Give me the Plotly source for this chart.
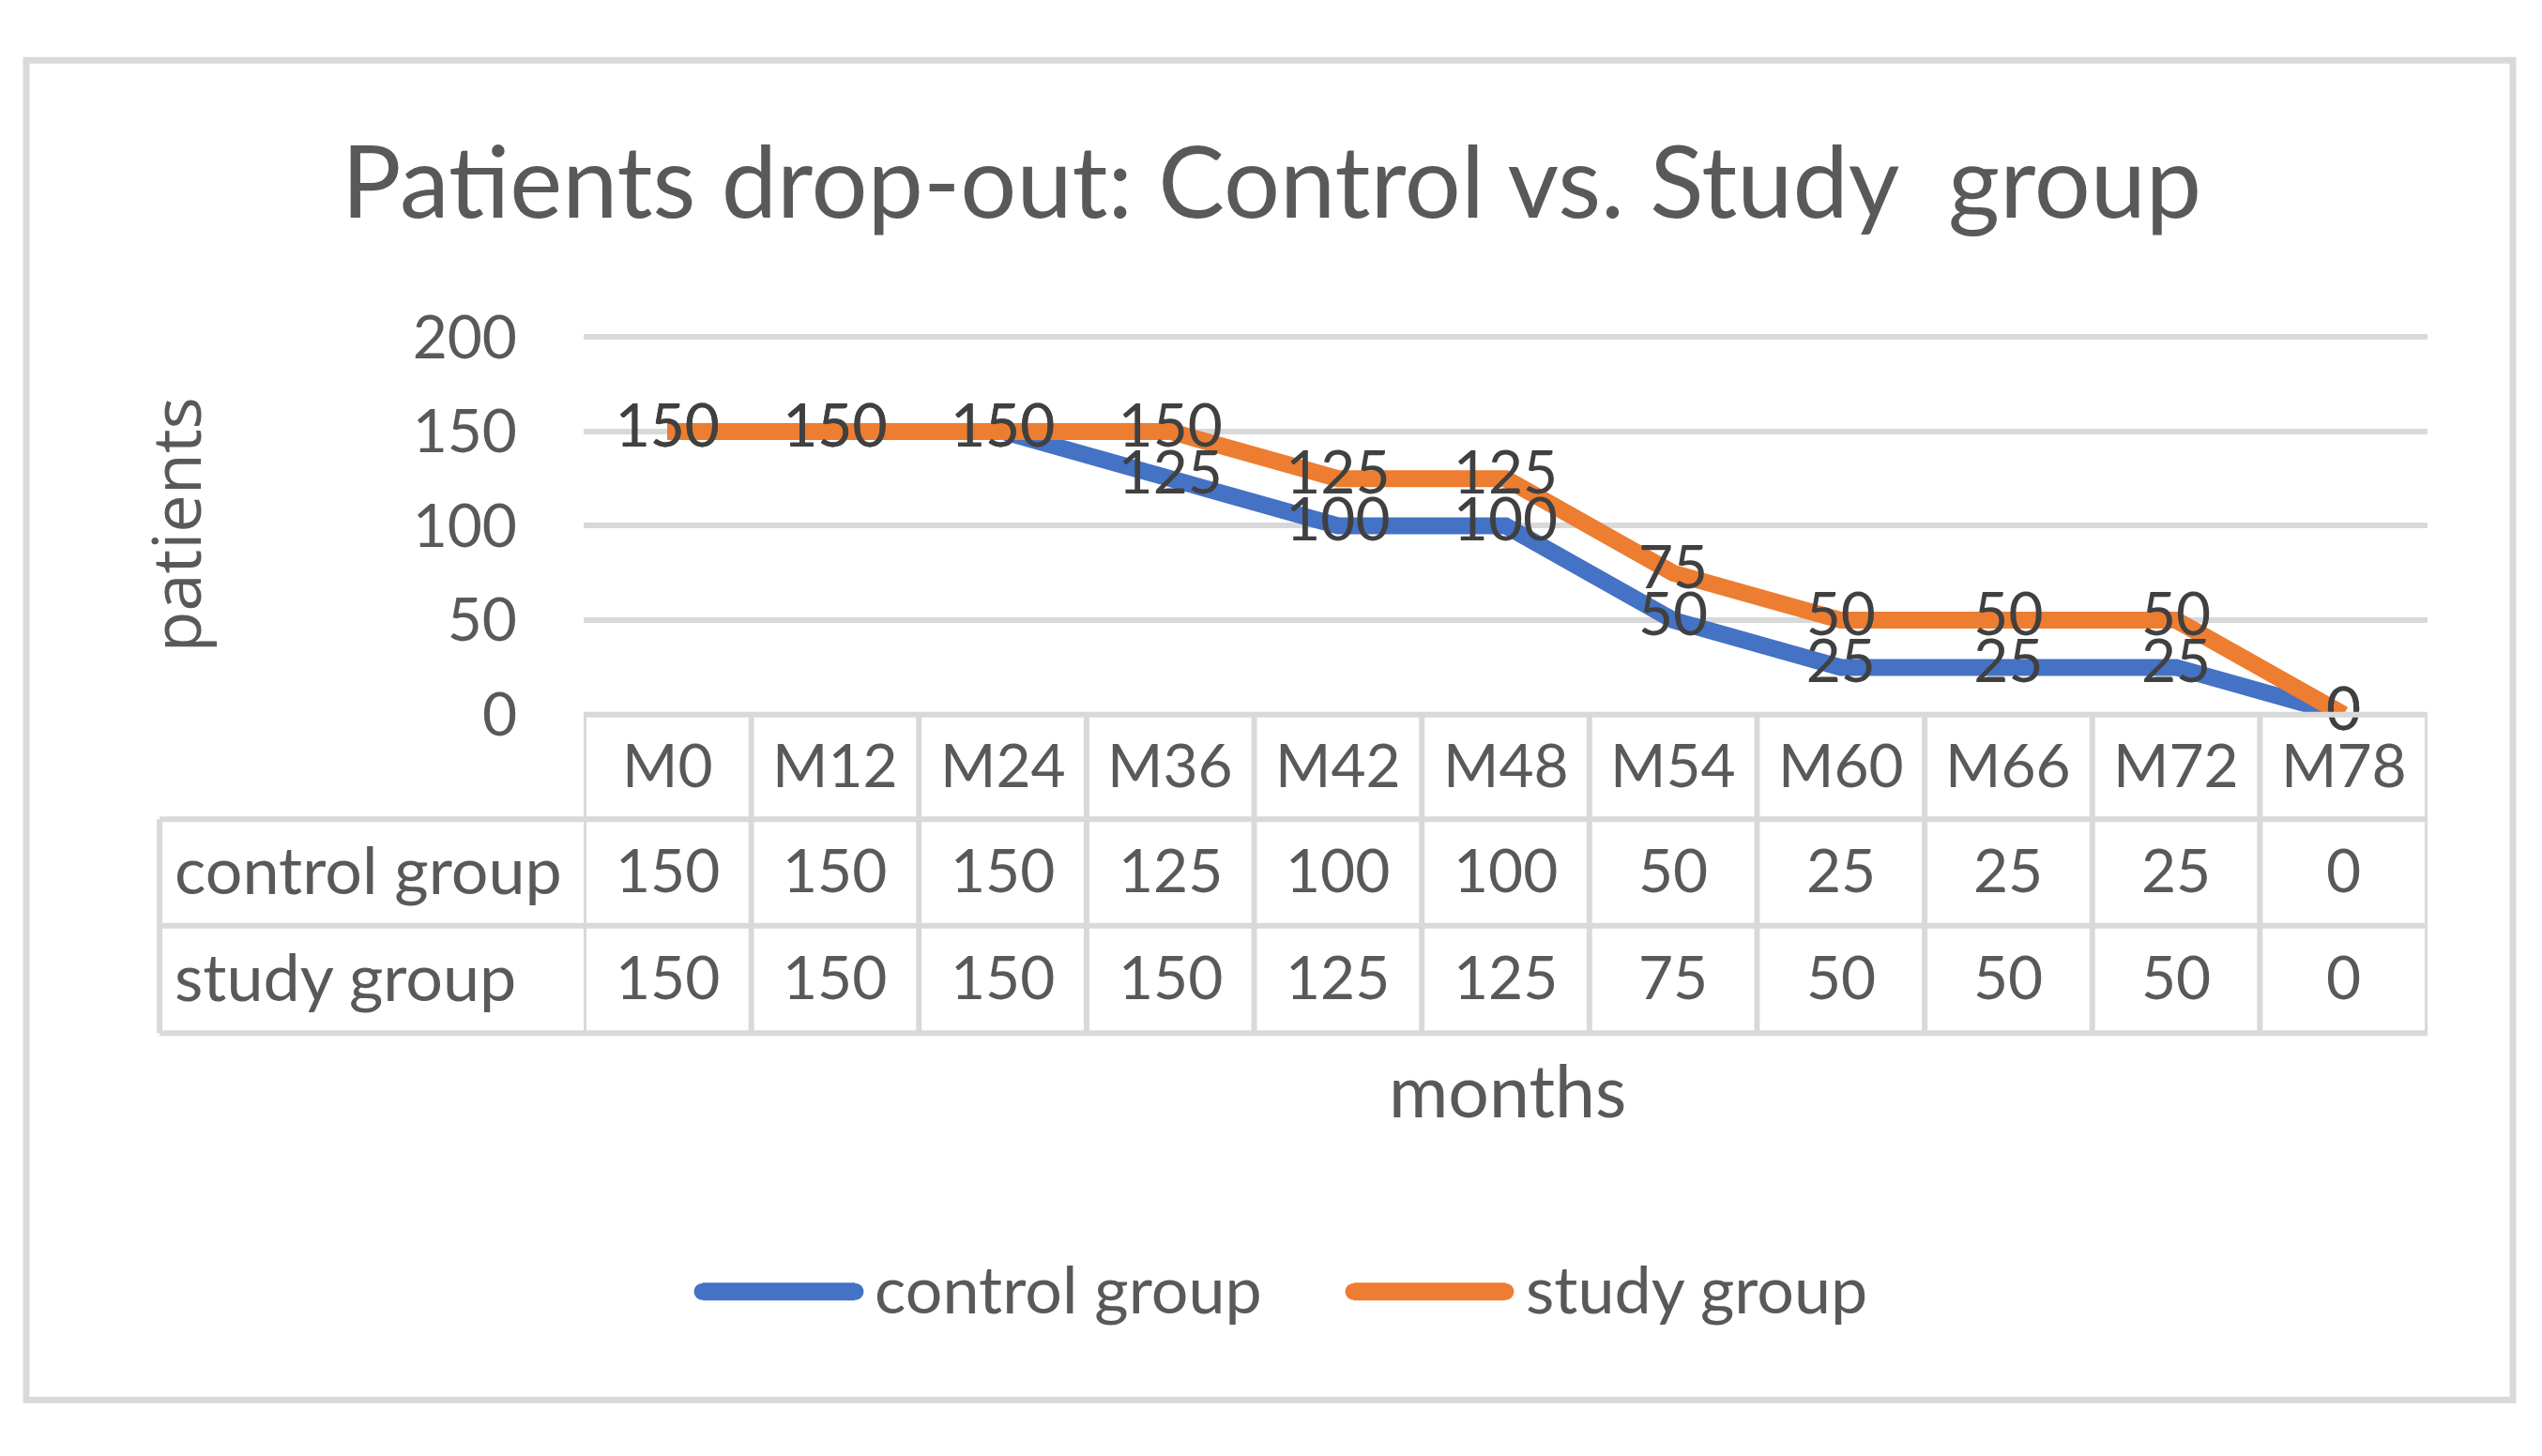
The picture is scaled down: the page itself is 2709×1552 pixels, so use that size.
import plotly.graph_objects as go

# ---- data ----
months = ["M0", "M12", "M24", "M36", "M42", "M48", "M54", "M60", "M66", "M72", "M78"]
control = [150, 150, 150, 125, 100, 100, 50, 25, 25, 25, 0]
study = [150, 150, 150, 150, 125, 125, 75, 50, 50, 50, 0]
series_names = ["control group", "study group"]
yticks = [0, 50, 100, 150, 200]
title_text = "Patients drop-out: Control vs. Study  group"
x_title = "months"
y_title = "patients"

# ---- styling ----
W, H = 2709, 1552
BLUE = "#4472C4"
ORANGE = "#ED7D31"
GRID = "#D9D9D9"
TXT = "#595959"
LBL = "#404040"
FONT = "Lato"
FS = 64      # digits / tick labels
FS_W = 70    # word labels (table row names, legend)


def px(x):
    return x / W


def py(y):
    return 1 - y / H


series = [(series_names[0], control, BLUE), (series_names[1], study, ORANGE)]

fig = go.Figure()
for name, vals, col in series:
    fig.add_trace(go.Scatter(
        x=months, y=vals, mode="lines", name=name,
        line=dict(color=col, width=18), showlegend=False, cliponaxis=False,
    ))
for name, vals, col in series:
    fig.add_trace(go.Scatter(
        x=months, y=vals, mode="text", text=[str(v) for v in vals],
        textposition="middle center",
        textfont=dict(family=FONT, size=FS, color=LBL),
        showlegend=False, cliponaxis=False, hoverinfo="skip",
    ))

shapes = []
# outer chart border
shapes.append(dict(type="rect", xref="paper", yref="paper",
                   x0=px(28), x1=px(2678), y0=py(29.5), y1=py(1527),
                   line=dict(color=GRID, width=7)))

# data table grid
top, r1, r2, bot = 761, 878, 997, 1117
left_tab, plot_l, plot_r = 170, 622, 2587
LW = 6
shapes.append(dict(type="line", xref="paper", yref="paper",
                   x0=px(plot_l), x1=px(plot_r), y0=py(top), y1=py(top),
                   line=dict(color=GRID, width=LW)))
for yy in (r1, r2, bot):
    shapes.append(dict(type="line", xref="paper", yref="paper",
                       x0=px(left_tab), x1=px(plot_r), y0=py(yy), y1=py(yy),
                       line=dict(color=GRID, width=LW)))
shapes.append(dict(type="line", xref="paper", yref="paper",
                   x0=px(left_tab), x1=px(left_tab), y0=py(r1), y1=py(bot),
                   line=dict(color=GRID, width=LW)))
for i in range(len(months) + 1):
    shapes.append(dict(type="line", xref="x", yref="paper",
                       x0=i - 0.5, x1=i - 0.5, y0=py(top), y1=py(bot),
                       line=dict(color=GRID, width=LW)))

# legend samples
leg = [(749, 911, 930), (1443, 1604, 1624)]
leg_y = 1406
for (x0, x1, _), (name, vals, col) in zip(leg, series):
    shapes.append(dict(type="line", xref="paper", yref="paper",
                       x0=px(x0), x1=px(x1), y0=py(leg_y), y1=py(leg_y),
                       line=dict(color=col, width=19)))
    # rounded caps
    for cx in (x0, x1):
        shapes.append(dict(type="circle", xref="paper", yref="paper",
                           x0=px(cx - 9.5), x1=px(cx + 9.5),
                           y0=py(leg_y + 9.5), y1=py(leg_y - 9.5),
                           fillcolor=col, line=dict(width=0)))

ann = []
ann.append(dict(text=title_text, xref="paper", yref="paper", x=px(1355), y=py(163),
                xanchor="center", yanchor="middle", showarrow=False,
                font=dict(family=FONT, size=106, color=TXT)))
ann.append(dict(text=y_title, xref="paper", yref="paper", x=px(186), y=py(549),
                xanchor="center", yanchor="middle", textangle=-90, showarrow=False,
                font=dict(family="Open Sans", size=72, color=TXT)))
ann.append(dict(text=x_title, xref="paper", yref="paper", x=px(1606), y=py(1180),
                xanchor="center", yanchor="middle", showarrow=False,
                font=dict(family=FONT, size=77, color=TXT)))
# table header
for m in months:
    ann.append(dict(text=m, xref="x", yref="paper", x=m, y=py((top + r1) / 2 - 3),
                    xanchor="center", yanchor="middle", showarrow=False,
                    font=dict(family=FONT, size=FS, color=TXT)))
# table rows
for (name, vals, col), (ya, yb) in zip(series, [(r1, r2), (r2, bot)]):
    yc = (ya + yb) / 2 - 4
    ann.append(dict(text=name, xref="paper", yref="paper", x=px(184), y=py(yc),
                    xanchor="left", yanchor="middle", showarrow=False,
                    font=dict(family=FONT, size=FS_W, color=TXT)))
    for m, v in zip(months, vals):
        ann.append(dict(text=str(v), xref="x", yref="paper", x=m, y=py(yc),
                        xanchor="center", yanchor="middle", showarrow=False,
                        font=dict(family=FONT, size=FS, color=TXT)))
# legend labels
for (_, _, tx), (name, vals, col) in zip(leg, series):
    ann.append(dict(text=name, xref="paper", yref="paper", x=px(tx), y=py(leg_y - 4),
                    xanchor="left", yanchor="middle", showarrow=False,
                    font=dict(family=FONT, size=FS_W, color=TXT)))

# y axis: 200 maps to pixel 339 and 0 to pixel 761; range extended slightly so
# the top gridline is drawn
y_lo, y_hi = 0, 202
ppu = (761 - 339) / 200.0
y_top_px = 761 - (y_hi - y_lo) * ppu

fig.update_layout(
    width=W, height=H, autosize=False,
    margin=dict(l=0, r=0, t=0, b=0),
    paper_bgcolor="white", plot_bgcolor="white",
    shapes=shapes, annotations=ann,
    xaxis=dict(domain=[px(plot_l), px(plot_r)], type="category",
               range=[-0.5, len(months) - 0.5], showticklabels=False,
               showgrid=False, zeroline=False, showline=False, ticks=""),
    yaxis=dict(domain=[py(761), py(y_top_px)], range=[y_lo, y_hi], tickvals=yticks,
               showgrid=True, gridcolor=GRID, gridwidth=6, zeroline=False,
               showline=False, ticks="", ticklabelstandoff=70,
               tickfont=dict(family=FONT, size=FS, color=TXT)),
    showlegend=False,
)

fig.write_html("out.html", config={"displayModeBar": False},
               post_script="document.body.style.margin='0';")
